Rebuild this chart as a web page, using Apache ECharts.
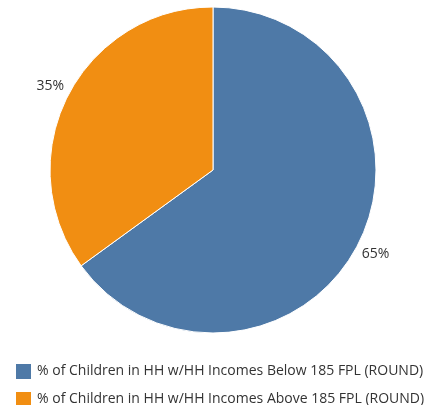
<!DOCTYPE html>
<html>
<head>
<meta charset="utf-8">
<script src="https://cdn.jsdelivr.net/npm/echarts@6/dist/echarts.min.js"></script>
<style>
html,body{margin:0;padding:0;background:#fff;}
#chart{width:434px;height:405px;}
</style>
</head>
<body>
<div id="chart"></div>
<script>
var categories = [
  '% of Children in HH w/HH Incomes Below 185 FPL (ROUND)',
  '% of Children in HH w/HH Incomes Above 185 FPL (ROUND)'
];
var values = [65, 35];
var colors = ['#4e79a7', '#f18e12'];

var chart = echarts.init(document.getElementById('chart'), null, {renderer: 'canvas'});
var FONT = '"Open Sans", "DejaVu Sans", sans-serif';
chart.setOption({
  animation: false,
  color: colors,
  legend: {
    orient: 'vertical',
    left: 14,
    top: 362,
    padding: 0,
    height: 80,
    itemWidth: 17,
    itemHeight: 17,
    itemGap: 9,
    icon: 'rect',
    data: categories,
    textStyle: {fontFamily: FONT, fontSize: 14, color: '#333', lineHeight: 17}
  },
  series: [{
    type: 'pie',
    center: [213, 170],
    radius: [0, 163],
    startAngle: 90,
    clockwise: true,
    avoidLabelOverlap: false,
    itemStyle: {borderColor: '#fff', borderWidth: 1},
    label: {
      show: true,
      position: 'outside',
      formatter: '{c}%',
      fontFamily: FONT,
      fontSize: 14,
      color: '#333',
      distanceToLabelLine: -16
    },
    labelLine: {show: false, length: 22, length2: 0},
    emphasis: {disabled: true},
    data: categories.map(function (c, i) { return {name: c, value: values[i]}; })
  }]
});
</script>
</body>
</html>
